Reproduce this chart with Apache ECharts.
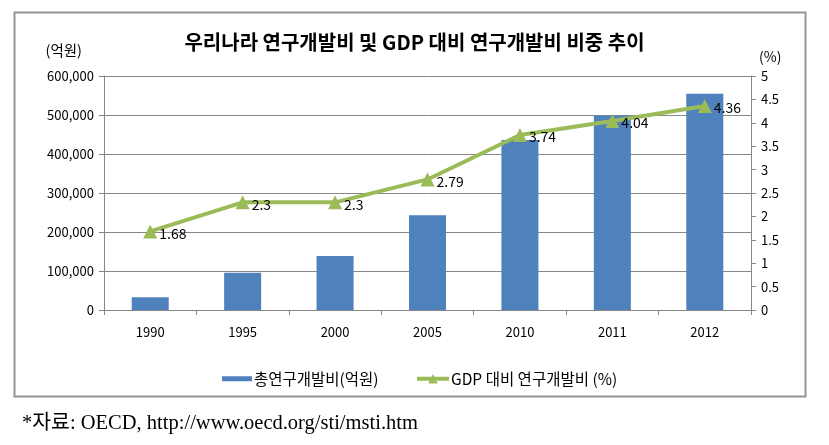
<!DOCTYPE html>
<html><head><meta charset="utf-8">
<script src="https://cdn.jsdelivr.net/npm/echarts@6/dist/echarts.min.js"></script>
<style>html,body{margin:0;padding:0;background:#fff}#c{width:829px;height:445px}</style>
</head><body><div id="c"></div>
<script>
const categories = ['1990','1995','2000','2005','2010','2011','2012'];
const rdSpending = [32600, 95800, 138500, 242800, 436000, 499000, 554600];
const rdGdpRatio = [1.68, 2.3, 2.3, 2.79, 3.74, 4.04, 4.36];
const titleText = '우리나라 연구개발비 및 GDP 대비 연구개발비 비중 추이';
const barName = '총연구개발비(억원)';
const lineName = 'GDP 대비 연구개발비 (%)';
const footnote = '*자료: OECD, http://www.oecd.org/sti/msti.htm';

const F = "'Noto Sans CJK KR','Noto Sans',sans-serif";
const legendText = {fontFamily: F, fontSize: 15.5, color: '#000', padding: [0,0,0,-3]};
const chart = echarts.init(document.getElementById('c'));
chart.setOption({
  animation: false,
  backgroundColor: '#fff',
  title: {text: titleText, left: 'center', top: 27,
    textStyle: {fontFamily: F, fontSize: 20, fontWeight: 'bold', color: '#000'}},
  legend: [
    {left: 217, top: 366, itemWidth: 30, itemHeight: 12, textStyle: legendText,
      data: [{name: barName, icon: 'path://M0,0M30,12M0,3.5h30v5h-30z'}]},
    {left: 410, top: 366, itemWidth: 32, itemHeight: 12, textStyle: legendText,
      data: [{name: lineName, lineStyle: {width: 4, color: '#9BBB59'}, itemStyle: {color: '#9BBB59'}}]}
  ],
  grid: {left: 104, right: 78, top: 76, bottom: 135},
  xAxis: {type: 'category', data: categories,
    axisLine: {lineStyle: {color: '#868686', width: 1}},
    axisTick: {show: true, alignWithLabel: false, length: 5, lineStyle: {color: '#868686'}},
    axisLabel: {fontFamily: F, fontSize: 13, color: '#000', margin: 16}},
  yAxis: [
    {type: 'value', min: 0, max: 600000, interval: 100000, name: '(억원)',
      nameLocation: 'end', nameGap: 18, nameTextStyle: {fontFamily: F, fontSize: 14.5, color: '#000', align: 'right', padding: [0, 22, 0, 0]},
      axisLine: {show: true, lineStyle: {color: '#868686'}},
      axisTick: {show: true, length: 5, lineStyle: {color: '#868686'}},
      axisLabel: {fontFamily: F, fontSize: 13, color: '#000', margin: 10,
        formatter: v => v.toLocaleString('en-US')},
      splitLine: {lineStyle: {color: '#868686', width: 1}}},
    {type: 'value', min: 0, max: 5, interval: 0.5, name: '(%)', position: 'right',
      nameLocation: 'end', nameGap: 12, nameTextStyle: {fontFamily: F, fontSize: 14, color: '#000', align: 'left', padding: [0,0,0,8]},
      axisLine: {show: true, lineStyle: {color: '#868686'}},
      axisTick: {show: true, length: 5, lineStyle: {color: '#868686'}},
      axisLabel: {fontFamily: F, fontSize: 13, color: '#000', margin: 10},
      splitLine: {show: false}}
  ],
  series: [
    {name: barName, type: 'bar', data: rdSpending, barWidth: 37,
      itemStyle: {color: '#4F81BD'}},
    {name: lineName, type: 'line', yAxisIndex: 1, data: rdGdpRatio,
      symbol: 'triangle', symbolSize: 14,
      lineStyle: {color: '#9BBB59', width: 4}, itemStyle: {color: '#9BBB59'},
      label: {show: true, position: 'right', distance: 2, offset: [0, 2], fontFamily: F, fontSize: 14, color: '#000'}}
  ],
  graphic: [
    {type: 'rect', shape: {x: 14.5, y: 12.5, width: 791, height: 384},
      style: {fill: 'none', stroke: '#969696', lineWidth: 2}, z: -1},
    {type: 'text', left: 22, top: 413,
      style: {text: footnote, font: "20.5px 'Liberation Serif','Noto Sans CJK KR',serif", fill: '#000'}}
  ]
});
</script></body></html>
